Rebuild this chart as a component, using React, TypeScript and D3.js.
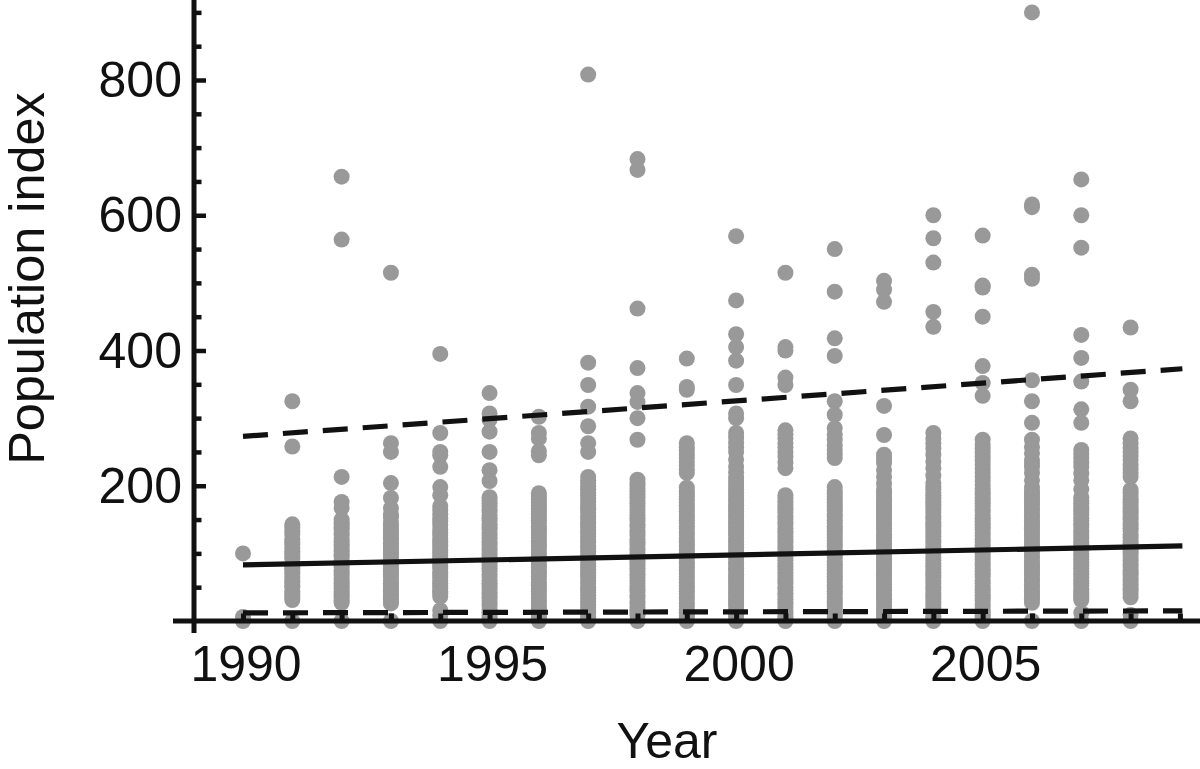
import { useEffect, useRef } from "react";
import * as d3 from "d3";

const W = 1200, H = 769;

// dots per year (dense columns are estimates)
const years = [1990, 1991, 1992, 1993, 1994, 1995, 1996, 1997, 1998, 1999, 2000, 2001, 2002, 2003, 2004, 2005, 2006, 2007, 2008];
const y1990 = [100, 6, 0];
const y1991 = [325, 258, 143, 138, 132, 128, 121, 117, 113, 107, 103, 100, 95, 92, 85, 81, 78, 74, 70, 64, 60, 57, 53, 50, 44, 41, 37, 34, 31, 0];
const y1992 = [657, 564, 213, 176, 167, 150, 146, 143, 138, 135, 130, 127, 122, 118, 114, 110, 106, 103, 98, 95, 90, 87, 83, 80, 75, 71, 67, 63, 59, 56, 52, 48, 44, 41, 38, 35, 30, 27, 0];
const y1993 = [515, 263, 250, 204, 182, 167, 158, 153, 145, 141, 136, 132, 128, 124, 120, 115, 111, 107, 102, 98, 94, 90, 86, 82, 77, 73, 69, 65, 60, 56, 52, 48, 44, 40, 36, 32, 28, 26, 0];
const y1994 = [395, 278, 250, 245, 228, 198, 186, 170, 164, 158, 152, 147, 142, 135, 131, 127, 122, 118, 114, 110, 105, 101, 97, 93, 89, 85, 81, 77, 72, 68, 64, 60, 56, 52, 48, 44, 41, 36, 16, 8, 0];
const y1995 = [337, 307, 298, 280, 250, 223, 207, 183, 178, 174, 170, 165, 161, 156, 152, 148, 143, 139, 135, 130, 126, 122, 117, 113, 108, 104, 100, 95, 91, 87, 82, 78, 74, 69, 65, 60, 56, 52, 48, 43, 39, 35, 30, 26, 22, 17, 13, 9, 5, 0];
const y1996 = [302, 278, 270, 251, 245, 189, 184, 180, 175, 171, 166, 162, 158, 153, 149, 145, 140, 136, 132, 127, 123, 118, 114, 110, 105, 100, 96, 92, 88, 83, 79, 74, 70, 66, 62, 57, 53, 48, 44, 40, 35, 31, 27, 22, 18, 13, 9, 5, 0];
const y1997 = [808, 382, 349, 317, 288, 263, 250, 213, 208, 203, 199, 195, 190, 186, 181, 177, 172, 168, 164, 160, 155, 151, 146, 142, 138, 134, 129, 125, 120, 116, 111, 107, 103, 98, 94, 90, 85, 81, 76, 72, 68, 64, 59, 55, 50, 46, 42, 38, 33, 29, 24, 20, 15, 11, 7, 4, 0];
const y1998 = [683, 667, 462, 374, 337, 324, 300, 268, 209, 204, 200, 196, 192, 187, 183, 178, 174, 170, 165, 160, 156, 152, 148, 143, 139, 134, 130, 126, 121, 117, 113, 108, 104, 99, 95, 90, 86, 82, 78, 73, 69, 64, 60, 55, 51, 47, 43, 38, 34, 29, 25, 20, 16, 12, 8, 0];
const y1999 = [388, 346, 342, 263, 257, 252, 246, 241, 235, 230, 224, 219, 197, 192, 188, 184, 180, 175, 171, 166, 162, 157, 153, 149, 145, 140, 136, 131, 127, 122, 118, 114, 110, 105, 101, 96, 92, 87, 83, 79, 75, 70, 66, 61, 57, 52, 48, 44, 40, 35, 31, 26, 22, 17, 13, 9, 5, 0];
const y2000 = [569, 474, 424, 405, 385, 349, 307, 300, 278, 271, 264, 257, 250, 239, 228, 220, 212, 206, 200, 195, 190, 185, 180, 175, 171, 166, 162, 157, 153, 148, 144, 139, 135, 131, 127, 122, 118, 113, 109, 104, 100, 96, 92, 87, 83, 78, 74, 69, 65, 61, 57, 52, 48, 43, 39, 34, 30, 26, 22, 17, 13, 9, 6, 0];
const y2001 = [515, 405, 400, 360, 349, 282, 276, 270, 263, 257, 250, 243, 234, 226, 186, 181, 177, 172, 168, 164, 160, 155, 151, 146, 142, 137, 133, 129, 125, 120, 116, 111, 107, 102, 98, 94, 90, 85, 81, 76, 72, 67, 63, 59, 55, 50, 46, 41, 37, 32, 28, 24, 20, 15, 11, 7, 4, 0];
const y2002 = [550, 487, 418, 392, 325, 305, 285, 276, 268, 260, 253, 247, 241, 198, 193, 189, 184, 180, 175, 171, 167, 163, 158, 154, 149, 145, 140, 136, 132, 128, 123, 119, 114, 110, 105, 101, 97, 93, 88, 84, 79, 75, 70, 66, 62, 58, 53, 49, 44, 40, 35, 31, 27, 23, 18, 14, 10, 6, 0];
const y2003 = [503, 490, 472, 318, 275, 246, 240, 234, 223, 213, 203, 194, 190, 185, 180, 176, 172, 168, 163, 159, 154, 150, 145, 141, 137, 133, 128, 124, 119, 115, 110, 106, 102, 98, 93, 89, 84, 80, 75, 71, 67, 63, 58, 54, 49, 45, 40, 36, 32, 28, 23, 19, 14, 10, 5, 0];
const y2004 = [600, 566, 530, 457, 435, 278, 270, 263, 255, 246, 236, 226, 215, 204, 199, 195, 190, 186, 181, 177, 173, 169, 164, 160, 155, 151, 146, 142, 138, 134, 129, 125, 120, 116, 111, 107, 103, 99, 94, 90, 85, 81, 76, 72, 68, 64, 59, 55, 50, 46, 41, 37, 33, 29, 24, 20, 15, 11, 7, 4, 0];
const y2005 = [570, 496, 493, 450, 377, 352, 333, 268, 261, 255, 249, 243, 237, 231, 225, 219, 213, 207, 201, 196, 191, 187, 182, 178, 174, 170, 165, 161, 156, 152, 147, 143, 139, 135, 130, 126, 121, 117, 112, 108, 104, 100, 95, 91, 86, 82, 77, 73, 69, 65, 60, 56, 51, 47, 42, 38, 34, 30, 25, 21, 16, 12, 8, 5, 0];
const y2006 = [900, 616, 612, 512, 506, 356, 325, 293, 268, 257, 248, 238, 233, 228, 219, 208, 198, 193, 189, 184, 180, 176, 172, 167, 163, 158, 154, 149, 145, 141, 137, 132, 128, 123, 119, 114, 110, 106, 102, 97, 93, 88, 84, 79, 75, 71, 67, 62, 58, 53, 49, 44, 40, 36, 32, 27, 0];
const y2007 = [653, 600, 552, 423, 389, 354, 313, 293, 253, 247, 241, 234, 228, 218, 208, 195, 183, 178, 174, 169, 165, 161, 157, 152, 148, 143, 139, 134, 130, 126, 122, 117, 113, 108, 104, 99, 95, 91, 87, 82, 78, 73, 69, 64, 60, 56, 52, 47, 43, 40, 37, 34, 31, 12, 0];
const y2008 = [434, 342, 325, 270, 263, 256, 250, 244, 238, 231, 225, 219, 213, 194, 190, 185, 180, 176, 172, 168, 163, 159, 154, 150, 145, 141, 137, 133, 128, 124, 119, 115, 110, 106, 102, 98, 93, 89, 84, 80, 75, 71, 67, 63, 58, 54, 49, 45, 40, 35, 9, 0];
const yearDots = [y1990, y1991, y1992, y1993, y1994, y1995, y1996, y1997, y1998, y1999, y2000, y2001, y2002, y2003, y2004, y2005, y2006, y2007, y2008];

// fitted trend and the two bounds, [year, index]
const trend = [[1990, 83], [2009.05, 111]];
const upperBound = [[1990, 273], [2009.05, 373]];
const lowerBound = [[1990, 12], [2009.05, 15]];

const xTicks = [1990, 1991, 1992, 1993, 1994, 1995, 1996, 1997, 1998, 1999, 2000, 2001, 2002, 2003, 2004, 2005, 2006, 2007, 2008, 2009];
const xLabels = [1990, 1995, 2000, 2005];
const yLabels = [200, 400, 600, 800];
const yMinor = [50, 100, 150, 250, 300, 350, 450, 500, 550, 650, 700, 750, 850, 900];

const App = () => {
  const ref = useRef<SVGSVGElement>(null);

  useEffect(() => {
    const svg = d3.select(ref.current);
    svg.selectAll("*").remove();

    const x = d3.scaleLinear().domain([1990, 2008]).range([243, 1130.6]);
    const y = d3.scaleLinear().domain([0, 800]).range([621, 80]);
    const font = "'Liberation Sans', Arial, sans-serif";
    const ink = "#111";

    // dots
    years.forEach((yr, i) => {
      svg.append("g").selectAll("circle").data(yearDots[i]).join("circle")
        .attr("cx", x(yr))
        .attr("cy", d => y(d))
        .attr("r", 8)
        .attr("fill", "#999");
    });

    // lines
    const lineGen = d3.line<number[]>().x(d => x(d[0])).y(d => y(d[1]));
    svg.append("path").attr("d", lineGen(trend)).attr("fill", "none").attr("stroke", ink).attr("stroke-width", 5.2);
    [upperBound, lowerBound].forEach(b => {
      svg.append("path").attr("d", lineGen(b)).attr("fill", "none").attr("stroke", ink)
        .attr("stroke-width", 5.2).attr("stroke-dasharray", "25,15");
    });

    // x axis ticks point up from the axis line
    const xAxisG = svg.append("g").attr("transform", "translate(0,621)")
      .call(d3.axisTop(x).tickValues(xTicks).tickSize(7.5).tickFormat(() => ""));
    xAxisG.select(".domain").remove();
    xAxisG.selectAll("line").attr("stroke", ink).attr("stroke-width", 5);

    // y axis ticks point right from the axis line
    const yMajorG = svg.append("g").attr("transform", "translate(194,0)")
      .call(d3.axisRight(y).tickValues(yLabels).tickSize(12).tickFormat(() => ""));
    const yMinorG = svg.append("g").attr("transform", "translate(194,0)")
      .call(d3.axisRight(y).tickValues(yMinor).tickSize(7.5).tickFormat(() => ""));
    [yMajorG, yMinorG].forEach(g => {
      g.select(".domain").remove();
      g.selectAll("line").attr("stroke", ink).attr("stroke-width", 4.5);
    });

    // axis lines
    svg.append("line").attr("x1", 194).attr("x2", 194).attr("y1", 0).attr("y2", 633)
      .attr("stroke", ink).attr("stroke-width", 5);
    svg.append("line").attr("x1", 173).attr("x2", 1200).attr("y1", 621).attr("y2", 621)
      .attr("stroke", ink).attr("stroke-width", 5);

    // labels
    svg.append("g").selectAll("text").data(xLabels).join("text")
      .attr("x", d => x(d) + 3)
      .attr("y", 681)
      .attr("text-anchor", "middle")
      .attr("font-family", font).attr("font-size", 50).attr("fill", ink)
      .text(d => d);
    svg.append("g").selectAll("text").data(yLabels).join("text")
      .attr("x", 182)
      .attr("y", d => y(d) + 17)
      .attr("text-anchor", "end")
      .attr("font-family", font).attr("font-size", 50).attr("fill", ink)
      .text(d => d);
    svg.append("text").attr("x", 667).attr("y", 758).attr("text-anchor", "middle")
      .attr("font-family", font).attr("font-size", 50).attr("fill", ink).text("Year");
    svg.append("text").attr("transform", "translate(44,278.5) rotate(-90)").attr("text-anchor", "middle")
      .attr("font-family", font).attr("font-size", 50.4).attr("fill", ink).text("Population index");
  }, []);

  return (
    <svg ref={ref} width={W} height={H} style={{ position: "absolute", left: 0, top: 0, background: "#fff" }} />
  );
};

export default App;
